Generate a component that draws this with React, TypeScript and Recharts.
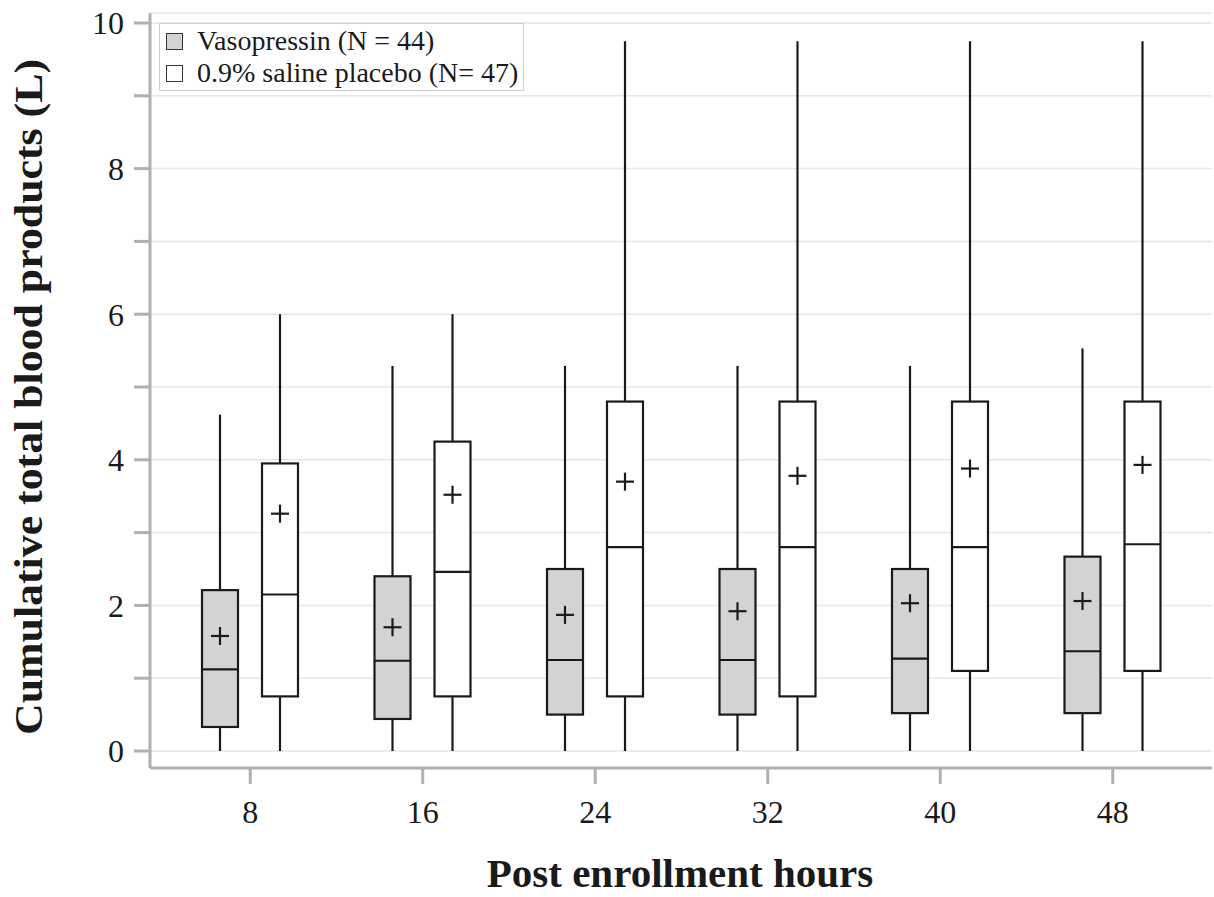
import React from 'react';
import { BarChart, Bar, XAxis, YAxis, CartesianGrid, Legend, Label } from 'recharts';

const hours = ['8', '16', '24', '32', '40', '48'];

const vasoMin = [0, 0, 0, 0, 0, 0];
const vasoQ1 = [0.33, 0.44, 0.5, 0.5, 0.52, 0.52];
const vasoMedian = [1.12, 1.24, 1.25, 1.25, 1.27, 1.37];
const vasoQ3 = [2.21, 2.4, 2.5, 2.5, 2.5, 2.67];
const vasoMax = [4.62, 5.29, 5.29, 5.29, 5.29, 5.53];
const vasoMean = [1.58, 1.7, 1.87, 1.92, 2.03, 2.06];

const placeboMin = [0, 0, 0, 0, 0, 0];
const placeboQ1 = [0.75, 0.75, 0.75, 0.75, 1.1, 1.1];
const placeboMedian = [2.15, 2.46, 2.8, 2.8, 2.8, 2.84];
const placeboQ3 = [3.95, 4.25, 4.8, 4.8, 4.8, 4.8];
const placeboMax = [6.0, 6.0, 9.75, 9.75, 9.75, 9.75];
const placeboMean = [3.26, 3.52, 3.7, 3.78, 3.88, 3.93];

const yTicks = [0, 1, 2, 3, 4, 5, 6, 7, 8, 9, 10];

const seriesNames = ['Vasopressin (N = 44)', '0.9% saline placebo (N= 47)'];

const data = hours.map((h, i) => ({
  hour: h,
  vMin: vasoMin[i], vQ1: vasoQ1[i], vMed: vasoMedian[i], vQ3: vasoQ3[i], vMax: vasoMax[i], vMean: vasoMean[i],
  pMin: placeboMin[i], pQ1: placeboQ1[i], pMed: placeboMedian[i], pQ3: placeboQ3[i], pMax: placeboMax[i], pMean: placeboMean[i],
}));

const SERIF = '"Liberation Serif", "Times New Roman", Times, serif';
const INK = '#1a1a1a';
const AXIS = '#b0b0b0';

const makeBoxShape = (p: string, fill: string) => (props: any) => {
  const { x, y, width, height, payload } = props;
  if (x == null || y == null || !payload) return null;
  const min = payload[p + 'Min'];
  const max = payload[p + 'Max'];
  const top = Math.min(y, y + height);
  const bottom = Math.max(y, y + height);
  const yOf = (v: number) => bottom - ((bottom - top) * (v - min)) / (max - min);
  const cx = x + width / 2;
  const yQ1 = yOf(payload[p + 'Q1']);
  const yQ3 = yOf(payload[p + 'Q3']);
  const yMed = yOf(payload[p + 'Med']);
  const yMean = yOf(payload[p + 'Mean']);
  const h = 9;
  const sw = 2.2;
  return (
    <g>
      <line x1={cx} x2={cx} y1={top} y2={yQ3} stroke={INK} strokeWidth={sw} />
      <line x1={cx} x2={cx} y1={yQ1} y2={bottom} stroke={INK} strokeWidth={sw} />
      <rect x={x} y={yQ3} width={width} height={yQ1 - yQ3} fill={fill} stroke={INK} strokeWidth={sw} />
      <line x1={x} x2={x + width} y1={yMed} y2={yMed} stroke={INK} strokeWidth={sw} />
      <line x1={cx - h} x2={cx + h} y1={yMean} y2={yMean} stroke={INK} strokeWidth={sw} />
      <line x1={cx} x2={cx} y1={yMean - h} y2={yMean + h} stroke={INK} strokeWidth={sw} />
    </g>
  );
};

const renderLegend = (props: any) => {
  const payload = [...(props.payload || [])].sort(
    (a: any, b: any) => seriesNames.indexOf(a.value) - seriesNames.indexOf(b.value)
  );
  return (
    <div
      style={{
        border: '1.5px solid #cfcfcf',
        background: '#fff',
        padding: '1px 5px 1px 6px',
        fontFamily: SERIF,
        fontSize: 28,
        color: INK,
        lineHeight: '32px',
        boxSizing: 'border-box',
      }}
    >
      {payload.map((it: any, i: number) => (
        <div key={i} style={{ display: 'flex', alignItems: 'center', whiteSpace: 'nowrap' }}>
          <span
            style={{
              display: 'inline-block',
              width: 15,
              height: 15,
              border: '1.5px solid #333',
              background: it.color,
              marginRight: 14,
            }}
          />
          {it.value}
        </div>
      ))}
    </div>
  );
};

export default function App() {
  return (
    <div style={{ position: 'absolute', left: 0, top: 0, width: 1214, height: 897, background: '#fff' }}>
      <BarChart
        width={1214}
        height={897}
        data={data}
        margin={{ top: 13, right: 2, bottom: 0, left: 0 }}
        barSize={36}
        barGap={24}
      >
        <CartesianGrid horizontal vertical={false} stroke="#e6e6e6" strokeWidth={1.5} />
        <XAxis
          dataKey="hour"
          height={129}
          tickSize={16}
          tickMargin={16}
          interval={0}
          padding={{ left: 14, right: 13 }}
          axisLine={{ stroke: AXIS, strokeWidth: 3 }}
          tickLine={{ stroke: AXIS, strokeWidth: 3 }}
          tick={{ fill: INK, fontSize: 32, fontFamily: SERIF }}
        >
          <Label
            content={() => (
              <text x={680} y={887} textAnchor="middle" fontFamily={SERIF} fontWeight="bold" fontSize={41} fill={INK}>
                Post enrollment hours
              </text>
            )}
          />
        </XAxis>
        <YAxis
          type="number"
          width={150}
          domain={[0, 10]}
          ticks={yTicks}
          interval={0}
          padding={{ top: 10, bottom: 17 }}
          tickSize={16}
          tickMargin={10}
          tickFormatter={(v: number) => (v % 2 === 0 ? String(v) : '')}
          axisLine={{ stroke: AXIS, strokeWidth: 3 }}
          tickLine={{ stroke: AXIS, strokeWidth: 3 }}
          tick={{ fill: INK, fontSize: 32, fontFamily: SERIF }}
        >
          <Label
            content={() => (
              <text
                x={42}
                y={397}
                transform="rotate(-90 42 397)"
                textAnchor="middle"
                fontFamily={SERIF}
                fontWeight="bold"
                fontSize={41}
                textLength={676}
                lengthAdjust="spacingAndGlyphs"
                fill={INK}
              >
                Cumulative total blood products (L)
              </text>
            )}
          />
        </YAxis>
        <Legend
          layout="vertical"
          align="center"
          verticalAlign="middle"
          wrapperStyle={{ left: 159, top: 23, width: 'auto' }}
          content={renderLegend}
        />
        <Bar
          name={seriesNames[0]}
          dataKey={(d: any) => [d.vMin, d.vMax]}
          fill="#d3d3d3"
          shape={makeBoxShape('v', '#d3d3d3')}
          isAnimationActive={false}
        />
        <Bar
          name={seriesNames[1]}
          dataKey={(d: any) => [d.pMin, d.pMax]}
          fill="#ffffff"
          shape={makeBoxShape('p', '#ffffff')}
          isAnimationActive={false}
        />
      </BarChart>
    </div>
  );
}
